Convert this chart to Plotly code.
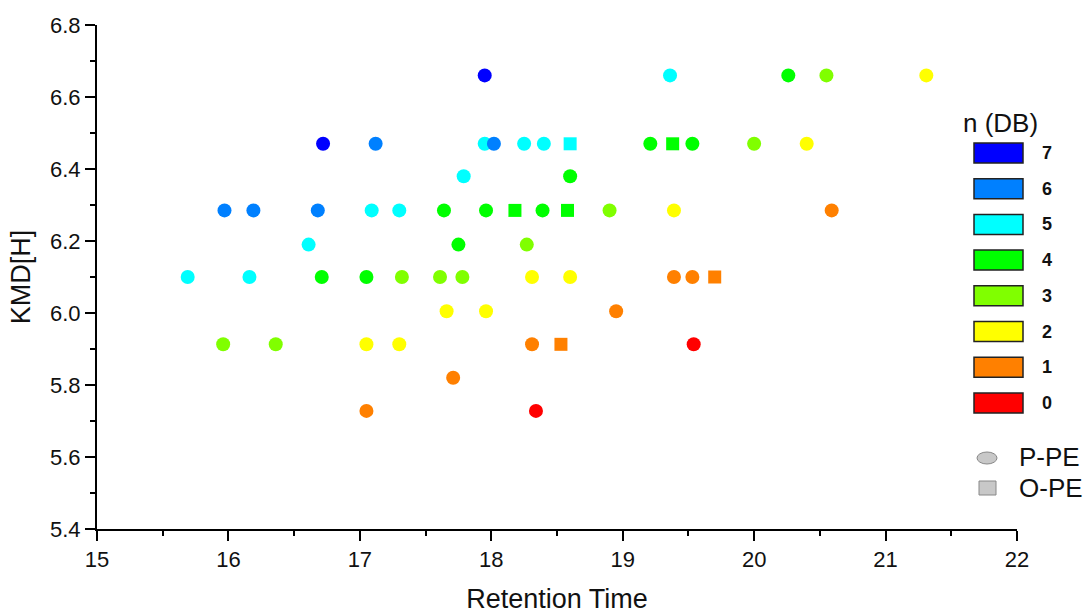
import plotly.graph_objects as go

# Retention time, KMD[H], number of double bonds and headgroup class for each feature
retention_time = [
    17.95, 19.36, 20.26, 20.55, 21.31,
    16.72, 17.12, 17.95, 18.02, 18.25, 18.40, 18.60, 19.21, 19.38, 19.53, 20.00, 20.40,
    17.79, 18.60,
    15.97, 16.19, 16.68, 17.09, 17.30, 17.64, 17.96, 18.18, 18.39, 18.58, 18.90, 19.39, 20.59,
    16.61, 17.75, 18.27,
    15.69, 16.16, 16.71, 17.05, 17.32, 17.61, 17.78, 18.31, 18.60, 19.39, 19.53, 19.70,
    17.66, 17.96, 18.95,
    15.96, 16.36, 17.05, 17.30, 18.31, 18.53, 19.54,
    17.71,
    17.05, 18.34,
]
kmd_h = [
    6.66, 6.66, 6.66, 6.66, 6.66,
    6.47, 6.47, 6.47, 6.47, 6.47, 6.47, 6.47, 6.47, 6.47, 6.47, 6.47, 6.47,
    6.38, 6.38,
    6.285, 6.285, 6.285, 6.285, 6.285, 6.285, 6.285, 6.285, 6.285, 6.285, 6.285, 6.285, 6.285,
    6.19, 6.19, 6.19,
    6.10, 6.10, 6.10, 6.10, 6.10, 6.10, 6.10, 6.10, 6.10, 6.10, 6.10, 6.10,
    6.005, 6.005, 6.005,
    5.913, 5.913, 5.913, 5.913, 5.913, 5.913, 5.913,
    5.82,
    5.728, 5.728,
]
n_db = [
    7, 5, 4, 3, 2,
    7, 6, 5, 6, 5, 5, 5, 4, 4, 4, 3, 2,
    5, 4,
    6, 6, 6, 5, 5, 4, 4, 4, 4, 4, 3, 2, 1,
    5, 4, 3,
    5, 5, 4, 4, 3, 3, 3, 2, 2, 1, 1, 1,
    2, 2, 1,
    3, 3, 2, 2, 1, 1, 0,
    1,
    1, 0,
]
lipid_class = [
    "P", "P", "P", "P", "P",
    "P", "P", "P", "P", "P", "P", "O", "P", "O", "P", "P", "P",
    "P", "P",
    "P", "P", "P", "P", "P", "P", "P", "O", "P", "O", "P", "P", "P",
    "P", "P", "P",
    "P", "P", "P", "P", "P", "P", "P", "P", "P", "P", "P", "O",
    "P", "P", "P",
    "P", "P", "P", "P", "P", "O", "P",
    "P",
    "P", "P",
]

db_levels = [7, 6, 5, 4, 3, 2, 1, 0]
db_colors = {
    7: "#0000FF", 6: "#0080FF", 5: "#00FFFF", 4: "#00FF00",
    3: "#80FF00", 2: "#FFFF00", 1: "#FF8000", 0: "#FF0000",
}
class_symbols = {"P": "circle", "O": "square"}
class_names = {"P": "P-PE", "O": "O-PE"}

x_ticks = [15, 16, 17, 18, 19, 20, 21, 22]
y_ticks = [5.4, 5.6, 5.8, 6.0, 6.2, 6.4, 6.6, 6.8]

fig = go.Figure()

# low DB first so higher-DB points sit on top where they overlap
for db in sorted(db_levels):
    for cls in ["P", "O"]:
        idx = [i for i in range(len(n_db)) if n_db[i] == db and lipid_class[i] == cls]
        if not idx:
            continue
        fig.add_trace(go.Scatter(
            x=[retention_time[i] for i in idx],
            y=[kmd_h[i] for i in idx],
            mode="markers",
            name=f"{class_names[cls]} n={db}",
            marker=dict(
                symbol=class_symbols[cls],
                size=14 if cls == "P" else 13,
                color=db_colors[db],
                line=dict(width=0),
            ),
            showlegend=False,
        ))

# plot area spans 96..1017 px horizontally and 25..529 px vertically
L, R, T, B = 97, 1017, 25, 529
W, H = R - L, B - T


def px_x(p):
    return (p - L) / W


def px_y(p):
    return (B - p) / H


FONT = "Liberation Sans, Arial"
shapes = []
annotations = []

# colour key for double-bond count
annotations.append(dict(
    x=px_x(1000), y=px_y(123), xref="paper", yref="paper",
    text="n (DB)", showarrow=False, xanchor="center", yanchor="middle",
    font=dict(family=FONT, size=26, color="#111111"),
))
for k, db in enumerate(db_levels):
    top = 143 + k * 35.7
    shapes.append(dict(
        type="rect", xref="paper", yref="paper",
        x0=px_x(974), x1=px_x(1023), y0=px_y(top + 20), y1=px_y(top),
        fillcolor=db_colors[db], line=dict(color="#222222", width=1.5),
    ))
    annotations.append(dict(
        x=px_x(1047), y=px_y(top + 10), xref="paper", yref="paper",
        text=f"<b>{db}</b>", showarrow=False, xanchor="center", yanchor="middle",
        font=dict(family=FONT, size=18, color="#111111"),
    ))

# marker-shape key for headgroup class
shapes.append(dict(
    type="circle", xref="paper", yref="paper",
    x0=px_x(977), x1=px_x(997), y0=px_y(464), y1=px_y(452),
    fillcolor="#C8C8C8", line=dict(color="#888888", width=1),
))
shapes.append(dict(
    type="rect", xref="paper", yref="paper",
    x0=px_x(979), x1=px_x(996), y0=px_y(495), y1=px_y(481),
    fillcolor="#C8C8C8", line=dict(color="#888888", width=1),
))
for label, cy in [("P-PE", 457), ("O-PE", 488)]:
    annotations.append(dict(
        x=px_x(1017), y=px_y(cy), xref="paper", yref="paper",
        text=label, showarrow=False, xanchor="left", yanchor="middle",
        font=dict(family=FONT, size=26, color="#111111"),
    ))

axis_common = dict(
    showline=True, linecolor="black", linewidth=2,
    ticks="outside", ticklen=10, tickwidth=1.5, tickcolor="black",
    showgrid=False, zeroline=False, automargin=False,
    tickfont=dict(family=FONT, size=22, color="#111111"),
    title_font=dict(family=FONT, size=27, color="#111111"),
)

fig.update_layout(
    width=1089, height=614,
    margin=dict(l=L, r=1089 - R, t=T, b=614 - B),
    paper_bgcolor="white", plot_bgcolor="white",
    shapes=shapes, annotations=annotations,
    xaxis=dict(
        range=[15, 22], tickvals=x_ticks, ticktext=[str(v) for v in x_ticks],
        title=dict(text="Retention Time", standoff=26),
        minor=dict(ticks="outside", ticklen=5, tickwidth=1.5, tickcolor="black", dtick=0.5),
        **axis_common,
    ),
    yaxis=dict(
        range=[5.4, 6.8], tickvals=y_ticks, ticktext=[f"{v:.1f}" for v in y_ticks],
        title=dict(text="KMD[H]", standoff=12),
        minor=dict(ticks="outside", ticklen=5, tickwidth=1.5, tickcolor="black", dtick=0.1),
        **axis_common,
    ),
)

fig.write_html("out.html")
